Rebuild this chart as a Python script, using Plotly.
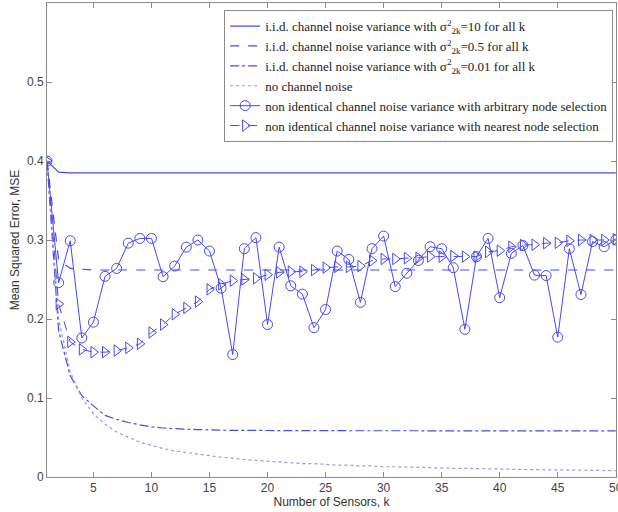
import plotly.graph_objects as go

k = list(range(1, 51))

iid_10 = [0.4, 0.386] + [0.385] * 48
iid_05 = [0.4, 0.275, 0.264, 0.263] + [0.262] * 46
iid_001 = [0.4, 0.185, 0.128, 0.103, 0.09, 0.078, 0.073, 0.069, 0.066, 0.0635,
           0.062, 0.061, 0.0605, 0.060, 0.0595, 0.059, 0.059, 0.059, 0.0588, 0.0588,
           0.0587, 0.0587, 0.0586, 0.0586, 0.0586, 0.0585, 0.0585, 0.0585, 0.0585, 0.0585,
           0.0585, 0.0585, 0.0585, 0.0585, 0.0585, 0.0585, 0.0585, 0.0585, 0.0585, 0.0585,
           0.0585, 0.0585, 0.0585, 0.0585, 0.0585, 0.0585, 0.0585, 0.0585, 0.0585, 0.0585]
no_noise = [0.4, 0.2, 0.133, 0.1, 0.08, 0.067, 0.057, 0.05, 0.044, 0.04,
            0.036, 0.033, 0.031, 0.029, 0.027, 0.025, 0.024, 0.022, 0.021, 0.02,
            0.019, 0.018, 0.017, 0.017, 0.016, 0.015, 0.015, 0.014, 0.014, 0.013,
            0.013, 0.0125, 0.012, 0.012, 0.011, 0.011, 0.011, 0.0105, 0.010, 0.010,
            0.0098, 0.0095, 0.0093, 0.0091, 0.0089, 0.0087, 0.0085, 0.0083, 0.0082, 0.008]
arbitrary = [0.4, 0.246, 0.299, 0.176, 0.196, 0.254, 0.264, 0.296, 0.302, 0.302,
             0.2535, 0.267, 0.291, 0.300, 0.286, 0.239, 0.155, 0.289, 0.303, 0.193,
             0.291, 0.242, 0.2315, 0.189, 0.212, 0.286, 0.2755, 0.221, 0.289, 0.305,
             0.241, 0.258, 0.274, 0.2915, 0.289, 0.265, 0.187, 0.279, 0.302, 0.227,
             0.283, 0.293, 0.2555, 0.255, 0.177, 0.289, 0.231, 0.298, 0.2915, 0.300]
nearest = [0.4, 0.219, 0.171, 0.1615, 0.158, 0.158, 0.160, 0.1635, 0.1686, 0.183,
           0.193, 0.206, 0.214, 0.222, 0.2375, 0.244, 0.2485, 0.250, 0.2515, 0.256,
           0.259, 0.260, 0.260, 0.262, 0.265, 0.266, 0.266, 0.267, 0.274, 0.276,
           0.276, 0.277, 0.2775, 0.279, 0.279, 0.2797, 0.279, 0.279, 0.285, 0.2865,
           0.2915, 0.2937, 0.294, 0.296, 0.2965, 0.299, 0.300, 0.300, 0.300, 0.301]

x_ticks = [5, 10, 15, 20, 25, 30, 35, 40, 45, 50]
y_ticks = [0, 0.1, 0.2, 0.3, 0.4, 0.5]
y_ticklabels = ["0", "0.1", "0.2", "0.3", "0.4", "0.5"]

names = [
    "i.i.d. channel noise variance with σ<sup>2</sup><sub>2k</sub>=10 for all k",
    "i.i.d. channel noise variance with σ<sup>2</sup><sub>2k</sub>=0.5 for all k",
    "i.i.d. channel noise variance with σ<sup>2</sup><sub>2k</sub>=0.01 for all k",
    "no channel noise",
    "non identical channel noise variance with arbitrary node selection",
    "non identical channel noise variance with nearest node selection",
]

blue = "rgb(72,72,240)"
fig = go.Figure()
fig.add_trace(go.Scatter(x=k, y=iid_10, mode="lines", name=names[0],
                         line=dict(color=blue, width=1.2)))
fig.add_trace(go.Scatter(x=k, y=iid_05, mode="lines", name=names[1],
                         line=dict(color=blue, width=1.2, dash="dash")))
fig.add_trace(go.Scatter(x=k, y=iid_001, mode="lines", name=names[2],
                         line=dict(color=blue, width=1.2, dash="dashdot")))
fig.add_trace(go.Scatter(x=k, y=no_noise, mode="lines", name=names[3],
                         line=dict(color="rgb(150,150,245)", width=1.2, dash="dot")))
fig.add_trace(go.Scatter(x=k, y=arbitrary, mode="lines+markers", name=names[4],
                         line=dict(color=blue, width=1),
                         marker=dict(symbol="circle-open", size=10, color=blue,
                                     line=dict(width=1, color=blue))))
fig.add_trace(go.Scatter(x=k, y=nearest, mode="lines+markers", name=names[5],
                         line=dict(color=blue, width=1, dash="dash"),
                         marker=dict(symbol="triangle-right-open", size=10, color=blue,
                                     line=dict(width=1, color=blue))))

axis_common = dict(showline=True, linecolor="#8a8a8a", linewidth=1, mirror="ticks",
                   ticks="inside", ticklen=5, tickcolor="#8a8a8a", showgrid=False,
                   zeroline=False, ticklabeloverflow="allow", automargin=False,
                   tickfont=dict(family="Liberation Sans, Arial", size=12, color="#444"))

fig.update_layout(
    width=618, height=512,
    margin=dict(l=47, r=2, t=3, b=35),
    paper_bgcolor="white", plot_bgcolor="white",
    xaxis=dict(range=[1, 50.02], tickvals=x_ticks,
               title=dict(text="Number of Sensors, k", standoff=3,
                          font=dict(family="Liberation Sans, Arial", size=12, color="#333")),
               **axis_common),
    yaxis=dict(range=[0, 0.6], tickvals=y_ticks, ticktext=y_ticklabels,
               title=dict(text="Mean Squared Error, MSE", standoff=4,
                          font=dict(family="Liberation Sans, Arial", size=12, color="#333")),
               **axis_common),
    legend=dict(x=0.995, y=0.985, xanchor="right", yanchor="top",
                bgcolor="white", bordercolor="#8a8a8a", borderwidth=1,
                font=dict(family="Liberation Serif, Times New Roman", size=13, color="#222"),
                tracegroupgap=0, itemwidth=30),
    showlegend=True,
)

fig.write_html("out.html")
